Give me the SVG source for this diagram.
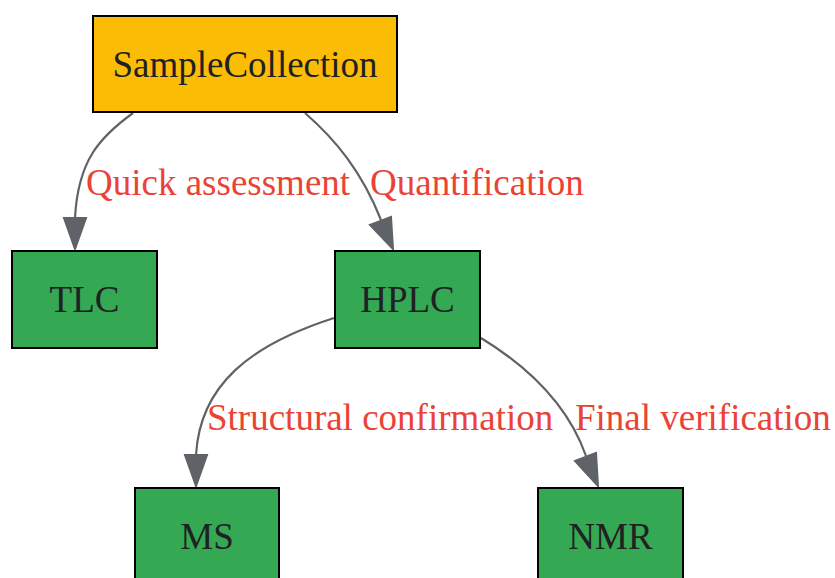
<svg xmlns="http://www.w3.org/2000/svg" width="835" height="578" viewBox="0 0 835 578">
<defs>
<style>
.node rect{stroke:#000;stroke-width:2}
.node text{font-family:"Liberation Serif","Times New Roman",serif;font-size:37px;fill:#202124;text-anchor:middle}
.edge path{fill:none;stroke:#5F6368;stroke-width:2.2}
.edge polygon{fill:#5F6368;stroke:#5F6368;stroke-width:2}
.lbl{font-family:"Liberation Serif","Times New Roman",serif;font-size:37px;fill:#EA4335}
</style>
</defs>
<rect width="835" height="578" fill="#fff"/>
<g id="connectors">
<g class="edge" id="e1">
<path d="M133,113 C100,137 78,160 75,218"/>
<polygon points="64,218 86,218 75,249"/>
<text class="lbl" x="86" y="195">Quick assessment</text>
</g>
<g class="edge" id="e2">
<path d="M305,113 C336,140 362,172 381,220"/>
<polygon points="370,225 391,217 393,249"/>
<text class="lbl" x="370" y="195">Quantification</text>
</g>
<g class="edge" id="e3">
<path d="M334,318 C250,345 200,385 196,455"/>
<polygon points="185,455 207,455 196,486"/>
<text class="lbl" x="207" y="430">Structural confirmation</text>
</g>
<g class="edge" id="e4">
<path d="M481,338 C530,368 568,405 586,456"/>
<polygon points="575,461 596,453 598,486"/>
<text class="lbl" x="575" y="430">Final verification</text>
</g>
</g>
<g class="node" id="SampleCollection">
<rect x="93" y="16" width="304" height="96" fill="#FBBC05"/>
<text x="245" y="77">SampleCollection</text>
</g>
<g class="node" id="TLC">
<rect x="12" y="251" width="145" height="97" fill="#34A853"/>
<text x="84.5" y="312">TLC</text>
</g>
<g class="node" id="HPLC">
<rect x="335" y="251" width="145" height="97" fill="#34A853"/>
<text x="407.5" y="312">HPLC</text>
</g>
<g class="node" id="MS">
<rect x="135" y="488" width="144" height="97" fill="#34A853"/>
<text x="207" y="549">MS</text>
</g>
<g class="node" id="NMR">
<rect x="538" y="488" width="145" height="97" fill="#34A853"/>
<text x="610.5" y="549">NMR</text>
</g>
</svg>
